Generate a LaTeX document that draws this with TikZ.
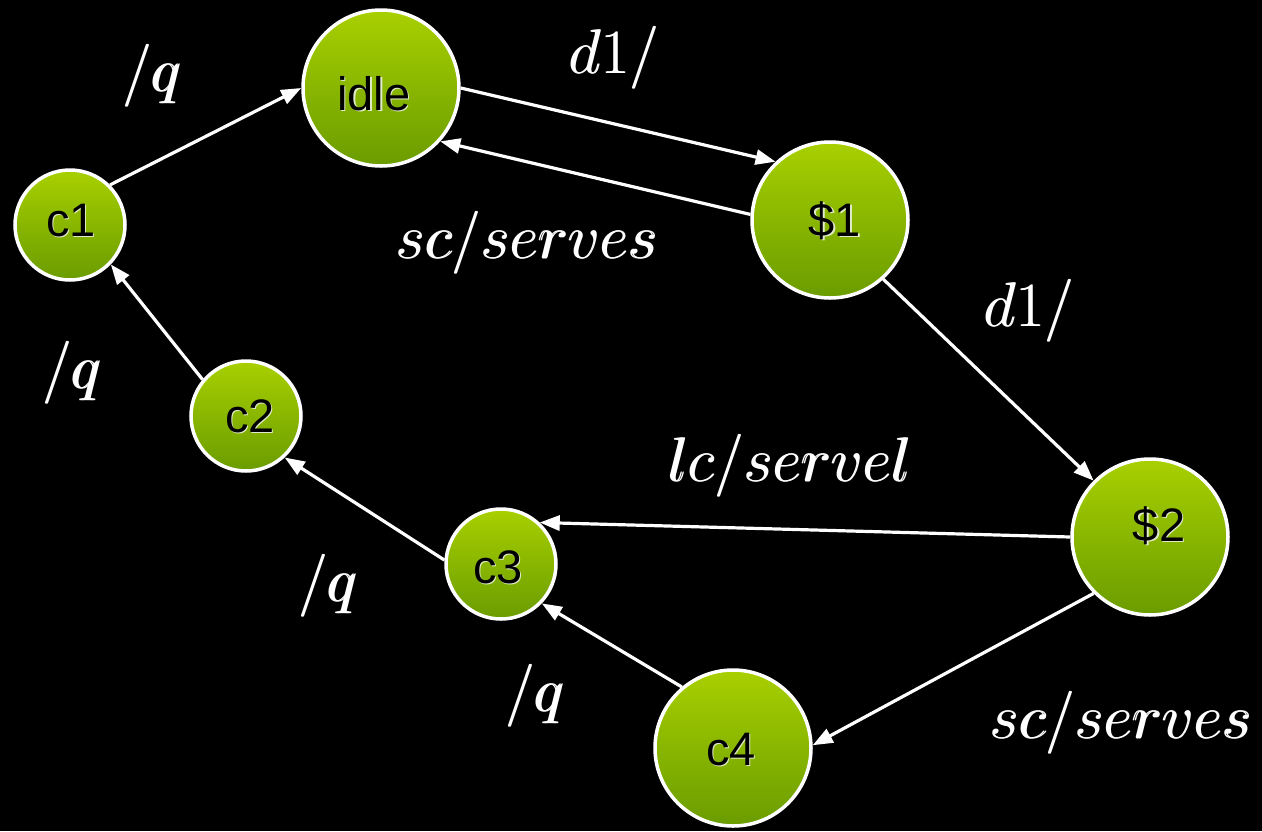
\RequirePackage{fix-cm}
\documentclass[tikz,border=0pt]{standalone}
\usepackage{fontspec}
\setsansfont{Liberation Sans}
\usetikzlibrary{arrows.meta}

\definecolor{leafTop}{RGB}{168,208,0}
\definecolor{leafBot}{RGB}{106,156,0}

% state name with a soft light edge at its lower right
\newcommand\statetxt[1]{\makebox[0pt][l]{\color{white!80!leafBot}\hspace{1.2pt}\raisebox{-1.2pt}{#1}}#1}
% action label, printed twice with a small shift for a heavier stroke
\newcommand\acttxt[1]{\makebox[0pt][l]{$#1$}\hspace{1.3pt}$#1$}

\tikzset{
  state/.style={circle, draw=white, line width=3.5pt,
    top color=leafTop, bottom color=leafBot, inner sep=0pt},
  bigstate/.style={state, minimum size=156pt},
  smallstate/.style={state, minimum size=110pt},
  statelabel/.style={font=\sffamily\fontsize{47}{52}\selectfont, text=black},
  trans/.style={draw=white, line width=3.2pt,
    -{Triangle[length=20pt,width=15pt]}},
  act/.style={text=white, font=\fontsize{63}{70}\selectfont},
}

\begin{document}
\begin{tikzpicture}[x=1pt, y=-1pt]
  \fill[black] (0,0) rectangle (1262,831);
  \useasboundingbox (0,0) rectangle (1262,831);

  % states
  \node[bigstate]   (idle) at (381,88)  {};
  \node[bigstate]   (s1)   at (830,220) {};
  \node[bigstate]   (s2)   at (1150,537) {};
  \node[bigstate]   (c4)   at (733,748) {};
  \node[smallstate] (c1)   at (70,225)  {};
  \node[smallstate] (c2)   at (246,416) {};
  \node[smallstate] (c3)   at (501,564) {};

  % state names
  \node[statelabel] (tidle) at (374,94)  {\statetxt{idle}};
  \node[statelabel] (ts1)   at (835,221) {\statetxt{\$1}};
  \node[statelabel] (ts2)   at (1159,526) {\statetxt{\$2}};
  \node[statelabel] (tc4)   at (731,750) {\statetxt{c4}};
  \node[statelabel] (tc1)   at (71,221)  {\statetxt{c1}};
  \node[statelabel] (tc2)   at (250,417) {\statetxt{c2}};
  \node[statelabel] (tc3)   at (498,568) {\statetxt{c3}};

  % transitions
  \draw[trans] (c1.45)    -- (idle.180);
  \draw[trans] (idle.0)   -- (s1.133);
  \draw[trans] (s1.176)   -- (idle.-42);
  \draw[trans] (s1.-48)   -- (s2.135);
  \draw[trans] (s2.180)   -- (c3.47);
  \draw[trans] (s2.225)   -- (c4.2);
  \draw[trans] (c4.130)   -- (c3.-44);
  \draw[trans] (c3.176)   -- (c2.-47);
  \draw[trans] (c2.140)   -- (c1.-44);

  % transition labels
  \node[act] (l1) at (152,76)   {\acttxt{/q}};
  \node[act] (l2) at (614,58)   {\acttxt{d1/}};
  \node[act] (l3) at (527,243)  {\acttxt{sc/serves}};
  \node[act] (l4) at (1029,311) {\acttxt{d1/}};
  \node[act] (l5) at (72,373)   {\acttxt{/q}};
  \node[act] (l6) at (790,466)  {\acttxt{lc/servel}};
  \node[act] (l7) at (328,586)  {\acttxt{/q}};
  \node[act] (l8) at (535,696)  {\acttxt{/q}};
  \node[act] (l9) at (1121,723) {\acttxt{sc/serves}};
\end{tikzpicture}
\end{document}
